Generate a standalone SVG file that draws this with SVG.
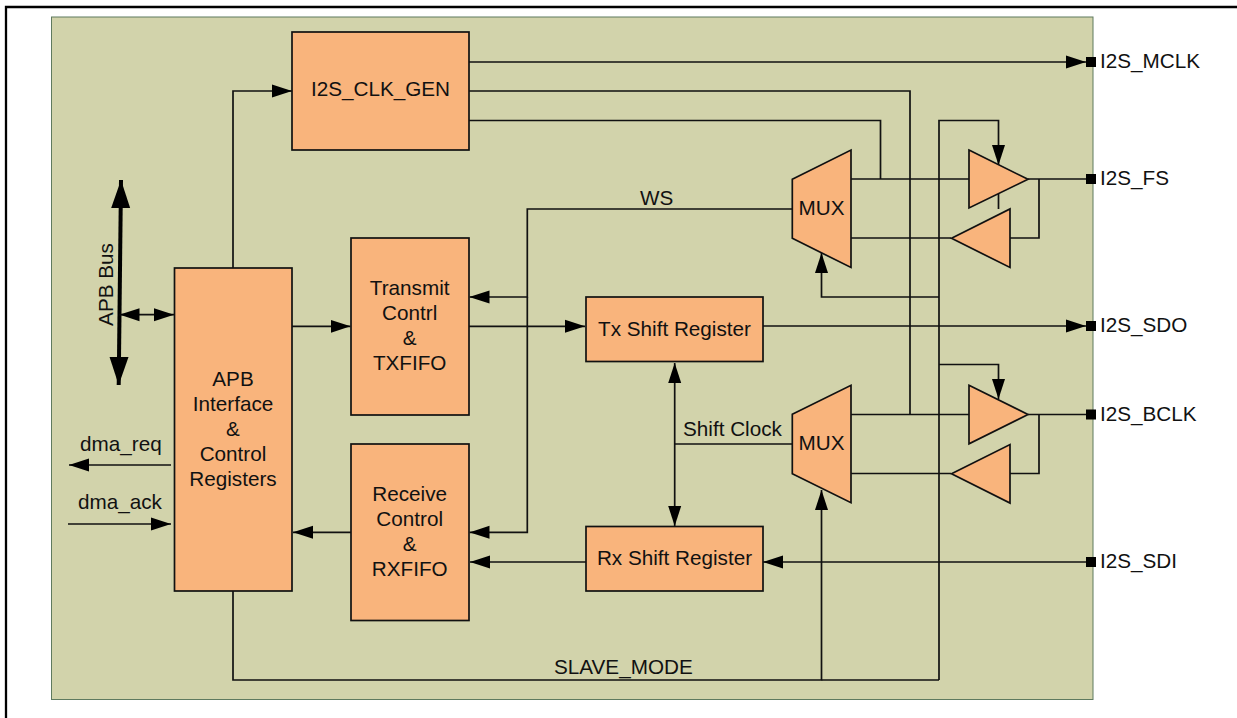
<svg xmlns="http://www.w3.org/2000/svg" width="1237" height="718" viewBox="0 0 1237 718">
<style>
text{font-family:"Liberation Sans",Arial,sans-serif;font-size:20.700px;fill:#111}
.c{text-anchor:middle}
.shape{fill:#f9b47c;stroke:#111;stroke-width:1.700}
#connectors path{fill:none;stroke:#111;stroke-width:1.700}
.a{marker-end:url(#ah)}
.b{marker-start:url(#ah);marker-end:url(#ah)}
#connectors path.bus{stroke:#000;stroke-width:4;marker-start:url(#bh);marker-end:url(#bh)}
</style>
<defs>
<marker id="ah" markerUnits="userSpaceOnUse" markerWidth="20" markerHeight="14" refX="20" refY="7" orient="auto-start-reverse"><path d="M0,0.500L20,7L0,13.500z" fill="#000"/></marker>
<marker id="bh" markerUnits="userSpaceOnUse" markerWidth="28" markerHeight="20" refX="28" refY="10" orient="auto-start-reverse"><path d="M0,0.500L28,10L0,19.500z" fill="#000"/></marker>
</defs>
<rect width="1237" height="718" fill="#fff"/>
<path id="page" d="M6,718V7H1237" fill="none" stroke="#000" stroke-width="2.300"/>
<rect id="panel" x="51.500" y="17" width="1041.500" height="682.500" fill="#d2d3ab" stroke="#5f7a5f" stroke-width="1"/>
<g id="connectors">
<path class="a" d="M469,62H1086"/>
<path d="M469,91H910V414.500"/>
<path d="M469,120.500H880.500V179"/>
<path d="M851,179H969"/>
<path d="M851,238H951"/>
<path class="a" d="M939,680V120.500H998.500V165"/>
<path d="M998.500,194V209"/>
<path d="M1028,179H1086"/>
<path d="M1039,179V238H1010"/>
<path class="a" d="M939,297H821.500V253"/>
<path class="a" d="M763,326H1086"/>
<path class="a" d="M939,364.500H998.500V399"/>
<path d="M851,414.500H969"/>
<path d="M851,473.500H951"/>
<path d="M1028,414.500H1086"/>
<path d="M1039,414.500V473.500H1010"/>
<path class="a" d="M1086,562H763"/>
<path class="a" d="M586,562H470"/>
<path class="a" d="M233,591V680H821.500V490"/>
<path d="M821.500,680H939"/>
<path class="a" d="M233,268V91H292"/>
<path class="a" d="M792,209H527.300V297H469.500"/>
<path class="a" d="M527.300,297V532.300H469.500"/>
<path class="a" d="M292,326.300H350.500"/>
<path class="a" d="M469,326.300H585"/>
<path class="a" d="M351,532.300H293"/>
<path class="b" d="M674.700,363V526"/>
<path d="M674.700,444H792"/>
<path class="bus" d="M121,180L118.700,385"/>
<path class="b" d="M119.500,314.700H174"/>
<path class="a" d="M171,465H69"/>
<path class="a" d="M68,524H171"/>
</g>
<g id="clkgen"><rect class="shape" x="292" y="32" width="177" height="118"/><text class="c" x="380.500" y="96">I2S_CLK_GEN</text></g>
<g id="apb"><rect class="shape" x="174.500" y="268" width="117.500" height="323"/><text class="c" x="233" y="386">APB</text><text class="c" x="233" y="411">Interface</text><text class="c" x="233" y="436">&amp;</text><text class="c" x="233" y="461">Control</text><text class="c" x="233" y="486">Registers</text></g>
<g id="txctl"><rect class="shape" x="351" y="238" width="118" height="177"/><text class="c" x="409.700" y="295">Transmit</text><text class="c" x="409.700" y="320">Contrl</text><text class="c" x="409.700" y="345">&amp;</text><text class="c" x="409.700" y="370">TXFIFO</text></g>
<g id="rxctl"><rect class="shape" x="351" y="444" width="118" height="176.500"/><text class="c" x="409.700" y="501">Receive</text><text class="c" x="409.700" y="526">Control</text><text class="c" x="409.700" y="551">&amp;</text><text class="c" x="409.700" y="576">RXFIFO</text></g>
<g id="txshift"><rect class="shape" x="586" y="297" width="177" height="64.500"/><text class="c" x="674.500" y="336">Tx Shift Register</text></g>
<g id="rxshift"><rect class="shape" x="586" y="526.500" width="177" height="64.500"/><text class="c" x="674.500" y="565">Rx Shift Register</text></g>
<g id="mux1"><path class="shape" d="M792.300,179.300L851,150V267.500L792.300,238.300z"/><text class="c" x="821.500" y="215">MUX</text></g>
<g id="mux2"><path class="shape" d="M792.300,414.300L851,385.300V502.700L792.300,473.700z"/><text class="c" x="821.500" y="450">MUX</text></g>
<g id="buf1"><path class="shape" d="M969,150L1028,179.300L969,208z"/></g>
<g id="buf1b"><path class="shape" d="M951.500,238.300L1010,209V267.500z"/></g>
<g id="buf2"><path class="shape" d="M969,385.300L1028,414.500L969,443.800z"/></g>
<g id="buf2b"><path class="shape" d="M951.500,473.700L1010,444.500V503z"/></g>
<g id="labels">
<text x="640" y="205">WS</text>
<text x="683" y="436">Shift Clock</text>
<text x="554" y="674">SLAVE_MODE</text>
<text x="80" y="451">dma_req</text>
<text x="78" y="509">dma_ack</text>
<text class="c" transform="translate(113,284.500) rotate(-90)">APB Bus</text>
</g>
<g id="pin-mclk"><rect x="1086" y="57" width="10" height="10"/><text x="1100" y="68">I2S_MCLK</text></g>
<g id="pin-fs"><rect x="1086" y="174" width="10" height="10"/><text x="1100" y="185">I2S_FS</text></g>
<g id="pin-sdo"><rect x="1086" y="321" width="10" height="10"/><text x="1100" y="332">I2S_SDO</text></g>
<g id="pin-bclk"><rect x="1086" y="409.500" width="10" height="10"/><text x="1100" y="421">I2S_BCLK</text></g>
<g id="pin-sdi"><rect x="1086" y="557" width="10" height="10"/><text x="1100" y="568">I2S_SDI</text></g>
</svg>
